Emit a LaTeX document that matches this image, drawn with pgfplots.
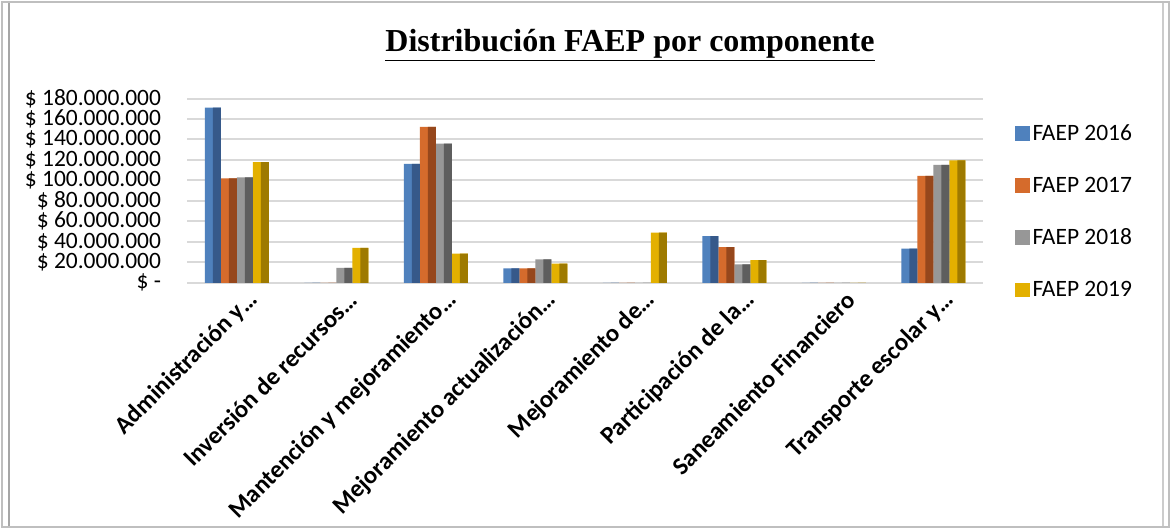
\documentclass[border=0pt]{standalone}
\usepackage{pgfplots}
\pgfplotsset{compat=1.18}
\usepackage{fontspec}
\setmainfont{Carlito}
\newfontfamily\titlefont{Liberation Serif}

\definecolor{c16}{HTML}{4F81BD}
\definecolor{c16d}{HTML}{36598A}
\definecolor{c17}{HTML}{D56B2C}
\definecolor{c17d}{HTML}{96471C}
\definecolor{c18}{HTML}{979797}
\definecolor{c18d}{HTML}{5E5E5E}
\definecolor{c19}{HTML}{E3B000}
\definecolor{c19d}{HTML}{9E7A00}
\definecolor{gridc}{HTML}{D9D9D9}

\pgfplotstableread{
x  y16     y17     y18     y19
0  171e6   102e6   103e6   118e6
1  0       0       14.6e6  34.2e6
2  116.2e6 152.3e6 136e6   28.6e6
3  14e6    14e6    23e6    18.8e6
4  0       0       0       49.1e6
5  45.5e6  34.8e6  17.9e6  22.1e6
6  0       0       0       0
7  33.5e6  104.5e6 115.2e6 119.7e6
}\faep

\begin{document}
\begin{tikzpicture}[x=0.75pt,y=0.75pt]
% frame
\fill[white] (0,0) rectangle (1171,529);
\draw[black!25, line width=1.5] (2,2) rectangle (1169,527);
\draw[black!35, line width=2.2] (9,3) -- (9,526);
\draw[black!20, line width=1.2] (1163,3) -- (1163,526);

\node[font=\titlefont\bfseries\fontsize{24}{26}\selectfont] at (630,484) {\underline{Distribución FAEP por componente}};

\begin{axis}[
  at={(188,240.5)}, anchor=south west,
  scale only axis, width=597pt, height=138.2pt,
  xmin=-0.5, xmax=7.5, ymin=0, ymax=180e6,
  axis line style={draw=none},
  axis x line*=bottom,
  x axis line style={draw=gridc, line width=1.5pt},
  ymajorgrids, grid style={gridc, line width=1.5pt},
  tick style={draw=none},
  ytick={0,20e6,40e6,60e6,80e6,100e6,120e6,140e6,160e6,180e6},
  yticklabels={\$ -,\$ 20.000.000,\$ 40.000.000,\$ 60.000.000,\$ 80.000.000,\$ 100.000.000,\$ 120.000.000,\$ 140.000.000,\$ 160.000.000,\$ 180.000.000},
  yticklabel style={font=\fontsize{17.6}{18}\selectfont, xshift=-16pt},
  scaled y ticks=false,
  xtick={0,...,7},
  xticklabels={Administración y…, Inversión de recursos…, Mantención y mejoramiento…, Mejoramiento actualización…, Mejoramiento de…, Participación de la…, Saneamiento Financiero, Transporte escolar y…},
  xticklabel style={font=\bfseries\fontsize{18.5}{19}\selectfont, rotate=45, anchor=east, xshift=8.5pt, yshift=-13pt},
  ybar, bar width=12pt,
  legend style={at={(1.035,0.89)}, anchor=north west, draw=none, fill=none,
    font=\fontsize{17.6}{18}\selectfont, row sep=22pt},
  legend cell align=left,
  legend image code/.code={\fill[#1] (0pt,-5.5pt) rectangle (11pt,5.5pt);},
]
\addplot[ybar, bar shift=-18pt, draw=none, fill=c16] table[x=x,y=y16] {\faep};
\addplot[ybar, bar shift=-6pt, draw=none, fill=c17] table[x=x,y=y17] {\faep};
\addplot[ybar, bar shift=6pt, draw=none, fill=c18] table[x=x,y=y18] {\faep};
\addplot[ybar, bar shift=18pt, draw=none, fill=c19] table[x=x,y=y19] {\faep};
\legend{FAEP 2016, FAEP 2017, FAEP 2018, FAEP 2019}
% darker right halves (bevel look)
\addplot[ybar, bar width=6pt, bar shift=-15pt, draw=none, fill=c16d, forget plot] table[x=x,y=y16] {\faep};
\addplot[ybar, bar width=6pt, bar shift=-3pt, draw=none, fill=c17d, forget plot] table[x=x,y=y17] {\faep};
\addplot[ybar, bar width=6pt, bar shift=9pt, draw=none, fill=c18d, forget plot] table[x=x,y=y18] {\faep};
\addplot[ybar, bar width=6pt, bar shift=21pt, draw=none, fill=c19d, forget plot] table[x=x,y=y19] {\faep};
\end{axis}
\end{tikzpicture}
\end{document}
